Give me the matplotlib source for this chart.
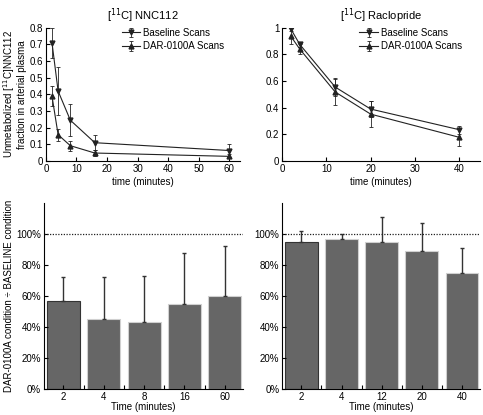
import numpy as np
import matplotlib
matplotlib.use("Agg")
from matplotlib import pyplot as plt

plt.rcParams['font.family'] = ['Liberation Sans', 'DejaVu Sans']
plt.rcParams['font.size'] = 7
plt.rcParams['xtick.direction'] = 'in'
plt.rcParams['ytick.direction'] = 'in'
plt.rcParams['axes.linewidth'] = 0.8

# --- NNC112 metabolite curves
nnc_time = [2, 4, 8, 16, 60]
nnc_base = [0.71, 0.42, 0.245, 0.11, 0.063]
nnc_base_err = [0.09, 0.145, 0.095, 0.045, 0.038]
nnc_dar = [0.39, 0.158, 0.092, 0.048, 0.028]
nnc_dar_err = [0.06, 0.035, 0.03, 0.02, 0.012]

# --- Raclopride metabolite curves
rac_time = [2, 4, 12, 20, 40]
rac_base = [0.99, 0.875, 0.555, 0.39, 0.235]
rac_base_err = [0.015, 0.02, 0.065, 0.06, 0.03]
rac_dar = [0.935, 0.84, 0.518, 0.352, 0.178]
rac_dar_err = [0.06, 0.04, 0.1, 0.1, 0.065]

# --- ratio bars (percent)
nnc_labels = ['2', '4', '8', '16', '60']
nnc_ratio = [57, 45, 43, 55, 60]
nnc_ratio_err = [15, 27, 30, 33, 32]
rac_labels = ['2', '4', '12', '20', '40']
rac_ratio = [95, 97, 95, 89, 75]
rac_ratio_err = [7, 3, 16, 18, 16]


def style_axes(ax):
    ax.spines['top'].set_visible(False)
    ax.spines['right'].set_visible(False)
    ax.tick_params(length=3, width=0.8, pad=2)


def line_panel(ax, t, base, base_err, dar, dar_err, xlim, xticks, yticks, title):
    ax.errorbar(t, base, yerr=base_err, color='#222222', lw=0.8, marker='v', ms=3.5,
                elinewidth=0.6, capsize=1.5, capthick=0.6, label='Baseline Scans')
    ax.errorbar(t, dar, yerr=dar_err, color='#222222', lw=0.8, marker='^', ms=3.5,
                elinewidth=0.6, capsize=1.5, capthick=0.6, label='DAR-0100A Scans')
    ax.set_xlim(*xlim)
    ax.set_ylim(0, yticks[-1])
    ax.set_xticks(xticks)
    ax.set_yticks(yticks)
    ax.set_xlabel('time (minutes)', labelpad=2)
    ax.set_title(title, fontsize=8, pad=6)
    ax.legend(loc='upper left', frameon=False, handlelength=1.9, borderaxespad=0.0,
              borderpad=0.0, labelspacing=0.35, handletextpad=0.3, fontsize=7,
              bbox_to_anchor=(0.39, 1.0))
    style_axes(ax)


def bar_panel(ax, labels, vals, errs):
    x = np.arange(len(labels))
    edges = ['#333333'] + ['#d0d0d0'] * (len(labels) - 1)
    ax.bar(x, vals, width=0.82, color='#666666', edgecolor=edges, linewidth=0.8)
    ax.errorbar(x, vals, yerr=[np.zeros(len(errs)), errs], fmt='none', ecolor='#333333',
                elinewidth=1.0, capsize=1.5, capthick=1.0)
    ax.axhline(100, color='#222222', lw=0.9, ls=(0, (1, 1.2)))
    ax.set_xlim(-0.48, len(labels) - 0.55)
    ax.set_ylim(0, 120)
    ax.set_xticks(x)
    ax.set_xticklabels(labels)
    ax.set_xticks(x[:-1] + 0.5, minor=True)
    ax.tick_params(axis='x', which='major', length=0)
    ax.tick_params(axis='x', which='minor', length=3, width=0.8)
    ax.set_yticks(range(0, 101, 20))
    ax.set_yticklabels(['%d%%' % v for v in range(0, 101, 20)])
    ax.set_xlabel('Time (minutes)', labelpad=0)
    style_axes(ax)


fig = plt.figure(figsize=(4.83, 4.15), dpi=100)
ax1 = fig.add_axes([0.095, 0.612, 0.402, 0.321])
ax2 = fig.add_axes([0.584, 0.612, 0.410, 0.321])
ax3 = fig.add_axes([0.091, 0.063, 0.412, 0.448])
ax4 = fig.add_axes([0.584, 0.063, 0.410, 0.448])

line_panel(ax1, nnc_time, nnc_base, nnc_base_err, nnc_dar, nnc_dar_err,
           (0, 63.5), [0, 10, 20, 30, 40, 50, 60], [0, 0.1, 0.2, 0.3, 0.4, 0.5, 0.6, 0.7, 0.8],
           '[$^{11}$C] NNC112')
ax1.set_yticklabels(['0', '0.1', '0.2', '0.3', '0.4', '0.5', '0.6', '0.7', '0.8'])
ax1.set_ylabel('Unmetabolized [$^{11}$C]NNC112\nfraction in arterial plasma', labelpad=2, linespacing=1.0)

line_panel(ax2, rac_time, rac_base, rac_base_err, rac_dar, rac_dar_err,
           (0, 44.7), [0, 10, 20, 30, 40], [0, 0.2, 0.4, 0.6, 0.8, 1.0],
           '[$^{11}$C] Raclopride')
ax2.set_yticklabels(['0', '0.2', '0.4', '0.6', '0.8', '1'])

bar_panel(ax3, nnc_labels, nnc_ratio, nnc_ratio_err)
ax3.set_ylabel('DAR-0100A condition \u00f7 BASELINE condition', labelpad=2)
bar_panel(ax4, rac_labels, rac_ratio, rac_ratio_err)

fig.savefig('out.png', dpi=100)
plt.close()
